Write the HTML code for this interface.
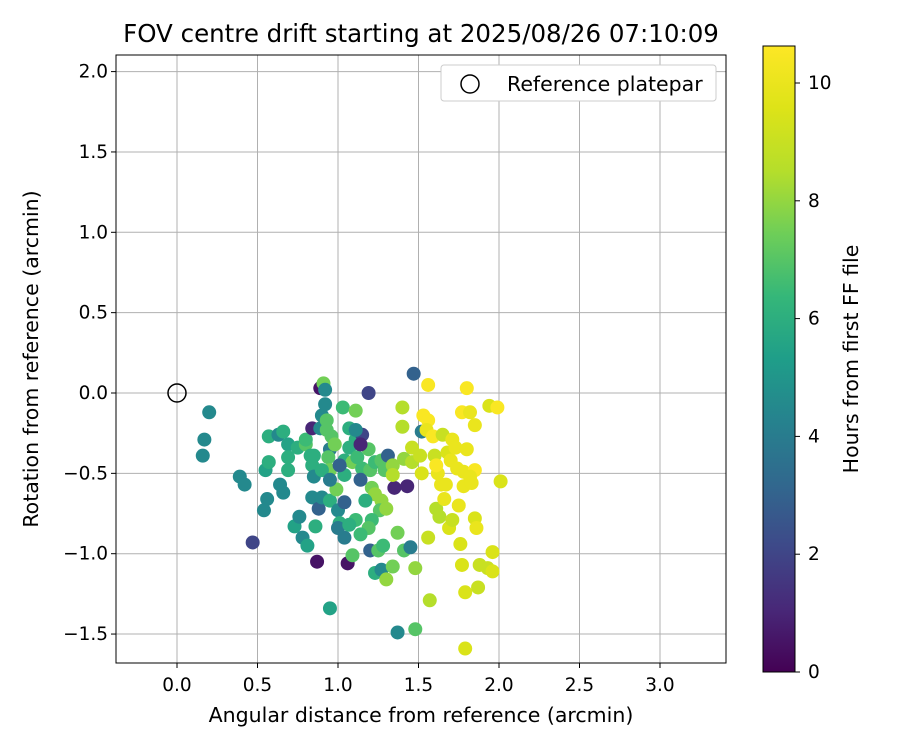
<!DOCTYPE html>
<html><head><meta charset="utf-8"><style>
body{margin:0;background:#fff;font-family:"DejaVu Sans","Liberation Sans",sans-serif}
</style></head><body>
<svg id="chart" width="900" height="750" xmlns="http://www.w3.org/2000/svg" font-family="DejaVu Sans, Liberation Sans, sans-serif">
<defs>
<linearGradient id="vir" x1="0" y1="1" x2="0" y2="0">
<stop offset="0" stop-color="#440154"/><stop offset="0.1" stop-color="#482878"/><stop offset="0.2" stop-color="#3e4989"/><stop offset="0.3" stop-color="#31688e"/><stop offset="0.4" stop-color="#26828e"/><stop offset="0.5" stop-color="#1f9e89"/><stop offset="0.6" stop-color="#35b779"/><stop offset="0.7" stop-color="#6ece58"/><stop offset="0.8" stop-color="#b5de2b"/><stop offset="0.9" stop-color="#dde318"/><stop offset="1" stop-color="#fde725"/>
</linearGradient>
<clipPath id="clip"><rect x="116" y="55" width="610" height="608"/></clipPath>
</defs>
<text x="421" y="42" font-size="24.5" text-anchor="middle">FOV centre drift starting at 2025/08/26 07:10:09</text>
<g id="grid"></g>
<g id="pts" clip-path="url(#clip)"></g>
<rect x="116" y="55" width="610" height="608" fill="none" stroke="#000" stroke-width="1"/>
<circle id="refm" r="9" fill="none" stroke="#000" stroke-width="1.5"/>
<g>
<rect x="441" y="65" width="275" height="36" rx="3" fill="#fff" stroke="#ccc"/>
<circle cx="470" cy="84" r="9" fill="none" stroke="#000" stroke-width="1.5"/>
<text x="507" y="91" font-size="20.5">Reference platepar</text>
</g>
<text x="421" y="722" font-size="20.5" text-anchor="middle">Angular distance from reference (arcmin)</text>
<text transform="translate(38,359) rotate(-90)" font-size="20.5" text-anchor="middle">Rotation from reference (arcmin)</text>
<rect x="763" y="46" width="32" height="626" fill="url(#vir)" stroke="#000" stroke-width="1"/>
<g id="cb"></g>
<text transform="translate(858,359) rotate(-90)" font-size="20.5" text-anchor="middle">Hours from first FF file</text>
</svg>
<script>
const xTicks=[0,0.5,1,1.5,2,2.5,3];
const xTickLabels=["0.0","0.5","1.0","1.5","2.0","2.5","3.0"];
const yTicks=[-1.5,-1,-0.5,0,0.5,1,1.5,2];
const yTickLabels=["−1.5","−1.0","−0.5","0.0","0.5","1.0","1.5","2.0"];
const cbTicks=[0,2,4,6,8,10];
const ptX=[0.20,0.17,0.16,0.39,0.42,0.47,0.54,0.56,0.55,0.57,0.57,0.63,0.66,0.69,0.69,0.69,0.64,0.66,0.73,0.76,0.78,0.81,0.75,0.80,0.80,0.83,0.84,0.85,0.84,0.86,0.87,0.88,0.84,0.89,0.90,0.92,0.89,0.91,0.92,0.93,0.93,0.96,0.95,0.94,0.90,0.95,0.99,1.00,1.04,1.01,1.04,1.06,1.09,1.00,0.95,1.03,1.07,1.11,1.07,1.04,1.09,1.11,1.12,1.15,1.19,1.15,1.20,1.23,1.27,1.31,1.29,1.21,1.23,1.27,1.26,1.30,1.21,1.19,1.20,1.25,1.28,1.23,1.27,1.30,1.34,1.34,1.35,1.34,1.37,1.41,1.45,1.48,1.48,1.37,1.43,1.19,1.47,1.40,1.40,1.41,1.46,1.46,1.52,1.52,1.56,1.53,1.56,1.55,1.51,1.59,1.60,1.62,1.56,1.57,1.61,1.63,1.61,1.64,1.66,1.67,1.65,1.68,1.71,1.70,1.73,1.74,1.69,1.71,1.75,1.78,1.76,1.77,1.79,1.80,1.77,1.82,1.80,1.78,1.85,1.85,1.86,1.85,1.82,1.83,1.87,1.88,1.93,1.96,1.96,1.94,1.99,2.01,1.79,1.11,1.04,0.95,1.14,1.17,1.11,1.07,1.14,0.90,0.95,1.01,1.14,0.98,0.85];
const ptY=[-0.12,-0.29,-0.39,-0.52,-0.57,-0.93,-0.73,-0.66,-0.48,-0.43,-0.27,-0.26,-0.24,-0.32,-0.40,-0.48,-0.57,-0.62,-0.83,-0.77,-0.90,-0.95,-0.34,-0.32,-0.29,-0.39,-0.45,-0.52,-0.65,-0.83,-1.05,-0.72,-0.22,-0.22,-0.14,-0.07,0.03,0.06,0.02,-0.17,-0.23,-0.27,-0.35,-0.40,-0.65,-0.67,-0.60,-0.73,-0.68,-0.81,-0.90,-1.06,-1.01,-0.84,-1.34,-0.09,-0.22,-0.11,-0.34,-0.42,-0.43,-0.29,-0.40,-0.26,-0.35,-0.47,-0.48,-0.43,-0.42,-0.39,-0.48,-0.59,-0.63,-0.67,-0.73,-0.72,-0.79,-0.84,-0.98,-0.98,-0.95,-1.12,-1.10,-1.16,-1.08,-0.45,-0.59,-0.51,-0.87,-0.98,-0.96,-1.09,-1.47,-1.49,-0.58,0.00,0.12,-0.09,-0.21,-0.41,-0.34,-0.43,-0.24,-0.50,0.05,-0.14,-0.17,-0.23,-0.39,-0.27,-0.39,-0.50,-0.90,-1.29,-0.72,-0.77,-0.45,-0.57,-0.66,-0.57,-0.26,-0.37,-0.29,-0.42,-0.34,-0.47,-0.84,-0.79,-0.70,-0.58,-0.94,-1.07,-1.24,0.03,-0.12,-0.12,-0.35,-0.49,-0.48,-0.78,-0.84,-0.20,-0.52,-0.56,-1.21,-1.07,-1.09,-1.11,-0.99,-0.08,-0.09,-0.55,-1.59,-0.23,-0.51,-0.48,-0.54,-0.67,-0.79,-0.82,-0.88,-0.48,-0.54,-0.45,-0.32,-0.32,-0.39];
const ptHours=[4.5,4.5,4.5,4.5,4.5,2,4.5,4.5,5.5,6,6,4.5,6,5.5,6,6,4.5,4.5,5.5,4.5,4.5,5.5,6,7,6.5,6,6,4.5,4.5,6,0.5,3,1,4.5,4.5,4.5,0.5,7.5,4.5,7,7,7,4,7,4.5,6,7.5,4.5,3,6,4,0.5,7,4,5.5,6.5,6,7.5,6,6,7.5,6,6.5,2,7,6.5,7,6.5,7,3,7,7.5,8,8,7,8,6.5,7,3,7,6.5,6,4.5,8,7.5,8,1,8.5,7.5,7,4,8,7,4.5,1,2,3,8.5,8.5,8,9,8.5,4,9.5,10.5,10.5,10.5,10,9,10.5,9,10,9,8.5,8.5,8.5,10.5,10,10,10,9,9.5,10,10,10,10,9.5,9,10,10,9.5,9.5,9.5,10.5,10.5,10,10,10,10.5,9.5,10,10,10,10,9,9,9,9.5,9.5,9.5,10.5,9.5,9.5,4.5,6,7.5,3,6,6.5,6,6.5,6,4,3,1,7.5,6];
const NS="http://www.w3.org/2000/svg";
const X=v=>177+(v)*161, Y=v=>393-v*160.7, CB=h=>672-h*58.9;
const stops=["#440154","#482878","#3e4989","#31688e","#26828e","#1f9e89","#35b779","#6ece58","#b5de2b","#dde318","#fde725"];
function hex(c){return [1,3,5].map(i=>parseInt(c.substr(i,2),16));}
function vir(t){t=Math.max(0,Math.min(1,t))*10;const i=Math.min(9,Math.floor(t)),f=t-i;const a=hex(stops[i]),b=hex(stops[i+1]);return "rgb("+a.map((v,k)=>Math.round(v+(b[k]-v)*f)).join(",")+")";}
function mk(tag,attrs,parent,txt){const e=document.createElementNS(NS,tag);for(const k in attrs)e.setAttribute(k,attrs[k]);if(txt!==undefined)e.textContent=txt;parent.appendChild(e);return e;}
const grid=document.getElementById("grid"),svg=document.getElementById("chart");
xTicks.forEach((v,i)=>{
 const g=mk("line",{x1:X(v),x2:X(v),y1:55,y2:663,stroke:"#b0b0b0","stroke-width":1},grid);
 
 
 mk("line",{x1:X(v),x2:X(v),y1:663,y2:668,stroke:"#000"},svg);
 const t=mk("text",{x:X(v),y:691,"font-size":18.5,"text-anchor":"middle"},svg,xTickLabels[i]);
 
 
});
yTicks.forEach((v,i)=>{
 const g=mk("line",{x1:116,x2:726,y1:Y(v),y2:Y(v),stroke:"#b0b0b0","stroke-width":1},grid);
 
 
 mk("line",{x1:111,x2:116,y1:Y(v),y2:Y(v),stroke:"#000"},svg);
 const t=mk("text",{x:108,y:Y(v)+6,"font-size":18.5,"text-anchor":"end"},svg,yTickLabels[i]);
 
 
});
const cb=document.getElementById("cb");
cbTicks.forEach(v=>{
 mk("line",{x1:795,x2:800,y1:CB(v),y2:CB(v),stroke:"#000"},cb);
 const t=mk("text",{x:808,y:CB(v)+6,"font-size":18.5},cb,String(v));
 
 
});
const pts=document.getElementById("pts");
ptX.forEach((x,i)=>{
 const c=mk("circle",{cx:X(x),cy:Y(ptY[i]),r:7,fill:vir(ptHours[i]/10.63)},pts);
 
 
});
const r=document.getElementById("refm");r.setAttribute("cx",X(0));r.setAttribute("cy",Y(0));
</script>
</body></html>
